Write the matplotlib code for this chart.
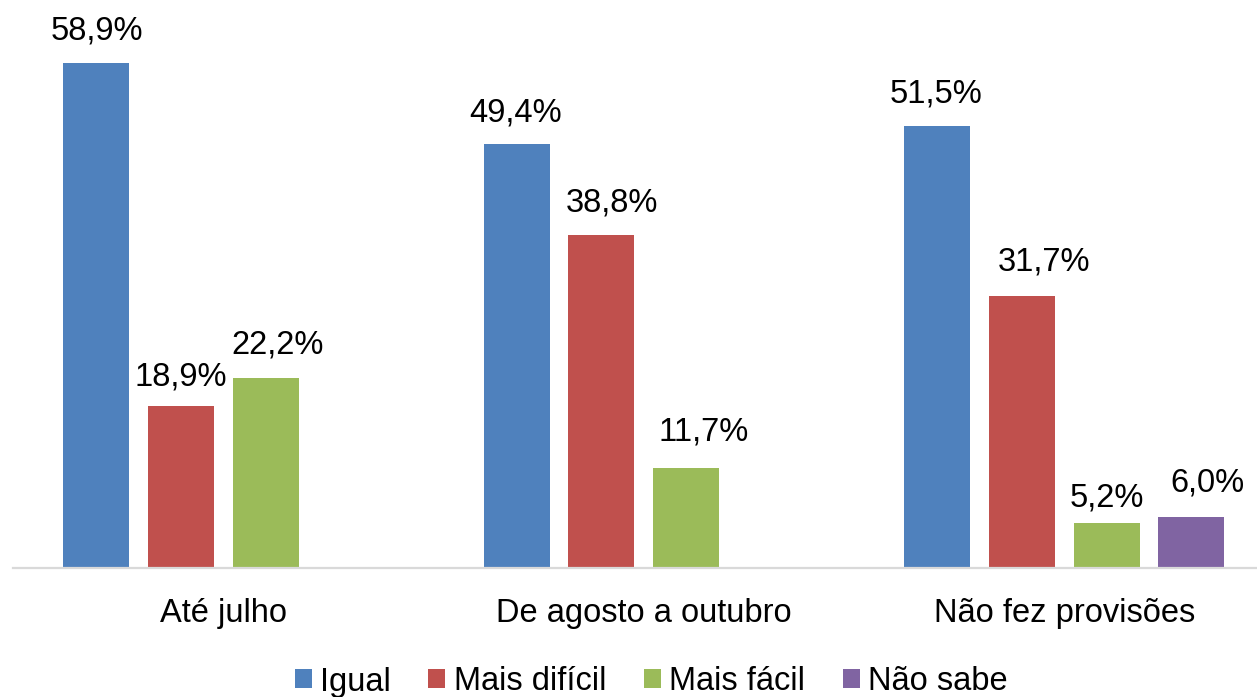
import matplotlib
matplotlib.use('Agg')
import matplotlib.pyplot as plt
import numpy as np

plt.rcParams['font.family'] = ['Liberation Sans', 'DejaVu Sans']

categories = ['Até julho', 'De agosto a outubro', 'Não fez provisões']
series_names = ['Igual', 'Mais difícil', 'Mais fácil', 'Não sabe']
igual = [58.9, 49.4, 51.5]
mais_dificil = [18.9, 38.8, 31.7]
mais_facil = [22.2, 11.7, 5.2]
nao_sabe = [None, None, 6.0]

colors = ['#4F81BD', '#C0504D', '#9BBB59', '#8064A2']
# manual nudges (px) of the value labels, as placed in the original
label_nudge = [
    [(0, 23), (-1, 23), (-1, 24)],
    [(0, 20), (10, 24), (22, 26)],
    [(12, 24), (18, 27), (0, 17)],
    [None, None, (16, 25)],
]

W, H = 1257, 697
fig = plt.figure(figsize=(W / 100, H / 100), dpi=100)
ax = fig.add_axes([13 / W, 129 / H, 1261.5 / W, 566 / H])

x = np.arange(len(categories))
step = 0.201
width = 0.157
all_series = [igual, mais_dificil, mais_facil, nao_sabe]
handles = []
for i, vals in enumerate(all_series):
    xs = [x[j] + (i - 1.5) * step for j in range(len(vals)) if vals[j] is not None]
    vs = [v for v in vals if v is not None]
    b = ax.bar(xs, vs, width, color=colors[i], label=series_names[i])
    handles.append(b)
    k = 0
    for j in range(len(vals)):
        if vals[j] is None:
            continue
        dx, dy = label_nudge[i][j]
        ax.annotate(f'{vals[j]:.1f}%'.replace('.', ','), (xs[k], vals[j]),
                    xytext=(dx, dy), textcoords='offset pixels',
                    ha='center', va='baseline', fontsize=23.5)
        k += 1

ax.set_xlim(-0.5, 2.5)
ax.set_ylim(0, 66)
ax.set_yticks([])
for s in ['top', 'left', 'right']:
    ax.spines[s].set_visible(False)
ax.spines['bottom'].set_color('#D9D9D9')
ax.spines['bottom'].set_linewidth(1.6)
ax.set_xticks(x)
ax.set_xticklabels(categories, fontsize=23.5)
ax.tick_params(axis='x', length=0, pad=54 * 0.72)
for lab in ax.get_xticklabels():
    lab.set_verticalalignment('baseline')

fig.legend(handles=handles, loc='center', bbox_to_anchor=(651 / W, 15 / H),
           ncol=4, frameon=False, fontsize=23.5, handlelength=0.52,
           handleheight=0.52, handletextpad=0.25, columnspacing=1.16,
           borderpad=0, borderaxespad=0)

fig.savefig('out.png', dpi=100)
